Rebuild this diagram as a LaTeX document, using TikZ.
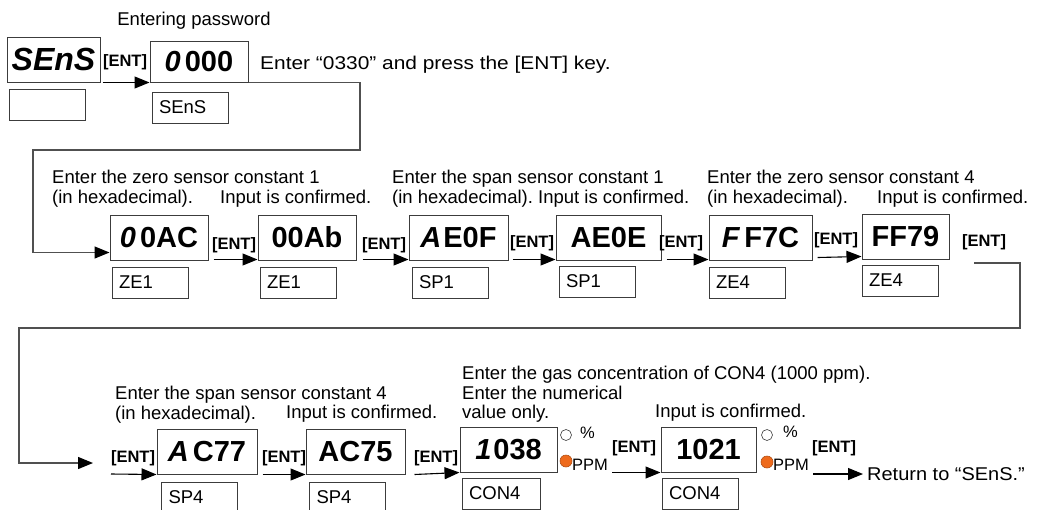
\documentclass[tikz,border=0pt]{standalone}
\usepackage{fontspec}
\setmainfont{Liberation Sans}
\usetikzlibrary{arrows.meta}
\definecolor{boxline}{HTML}{3C3C3C}
\definecolor{wiregray}{HTML}{505050}
\definecolor{lamp}{HTML}{EE6A1C}
\tikzset{
  disp/.style={draw=boxline, line width=1pt, minimum width=98pt, minimum height=45pt,
    inner sep=0pt, font=\fontsize{29}{29}\selectfont\bfseries},
  namebox/.style={draw=boxline, line width=1pt, minimum height=31pt, inner ysep=0pt,
    inner xsep=7pt, text width=62pt, align=left, font=\fontsize{18.5}{19}\selectfont},
  ent/.style={inner sep=0pt, font=\fontsize{16.5}{17}\selectfont\bfseries},
  txt/.style={inner sep=0pt, align=left, font=\fontsize{18.5}{19.5}\selectfont},
  unit/.style={inner sep=0pt, font=\fontsize{16.5}{16.5}\selectfont},
  lampoff/.style={circle, draw=boxline, line width=0.6pt, minimum size=11pt, inner sep=0pt},
  lampon/.style={lampoff, fill=lamp, draw=lamp!75!black, minimum size=12pt},
  fwd/.style={line width=1.1pt, -{Triangle[length=15pt,width=12pt]}},
  wire/.style={draw=wiregray, line width=1.3pt, -{Triangle[length=15pt,width=12pt,color=black]}}
}
\begin{document}
\begin{tikzpicture}[x=1pt,y=-1pt]
  \clip (0,0) rectangle (1040,509);
  \node[txt, anchor=base] (title) at (194,25) {Entering password};
  \node[disp, minimum width=93pt, font=\fontsize{32}{32}\selectfont\bfseries] (sens) at (53.5,59.5) {\textit{SEnS}};
  \node[namebox] (blank) at (47,104.5) {};
  \node[ent] (ent0) at (125,62) {[ENT]};
  \node[disp, minimum height=41pt] (pw) at (199,61.5) {\textit{0}\hspace{4pt}000};
  \node[namebox] (pwtag) at (190,107.5) {SEnS};
  \node[txt, anchor=base west] (hint) at (260,69)
    {\addfontfeatures{FakeStretch=1.13}Enter “0330” and press the [ENT] key.};

  \node[txt, anchor=north west] (t1) at (52,170) {Enter the zero sensor constant 1\\(in hexadecimal).};
  \node[txt, anchor=base west] (c1) at (220,203) {Input is confirmed.};
  \node[txt, anchor=north west] (t2) at (392,170) {Enter the span sensor constant 1\\(in hexadecimal).};
  \node[txt, anchor=base west] (c2) at (538,203) {Input is confirmed.};
  \node[txt, anchor=north west] (t3) at (707,170) {Enter the zero sensor constant 4\\(in hexadecimal).};
  \node[txt, anchor=base west] (c3) at (877,203) {Input is confirmed.};

  \node[disp] (a1) at (159,237.5) {\textit{0}\hspace{4pt}0AC};
  \node[disp] (a2) at (307,237.5) {00Ab};
  \node[disp, minimum width=99pt] (a3) at (458.5,237.5) {\textit{A}\hspace{2pt}E0F};
  \node[disp, minimum width=105pt] (a4) at (608.5,237.5) {AE0E};
  \node[disp, minimum width=103pt] (a5) at (760.5,237.5) {\textit{F}\hspace{4pt}F7C};
  \node[disp, minimum width=87pt] (a6) at (905.5,236.5) {FF79};
  \node[namebox] (l1) at (150,282.5) {ZE1};
  \node[namebox] (l2) at (298,282.5) {ZE1};
  \node[namebox] (l3) at (450,282.5) {SP1};
  \node[namebox] (l4) at (597,281.5) {SP1};
  \node[namebox] (l5) at (747,282.5) {ZE4};
  \node[namebox] (l6) at (900,280.5) {ZE4};
  \node[ent] (e1) at (234,245) {[ENT]};
  \node[ent] (e2) at (384,245) {[ENT]};
  \node[ent] (e3) at (532,243) {[ENT]};
  \node[ent] (e4) at (681,243) {[ENT]};
  \node[ent] (e5) at (836,240) {[ENT]};
  \node[ent] (e6) at (984,242) {[ENT]};

  \node[txt, anchor=north west] (t4) at (115,386) {Enter the span sensor constant 4\\(in hexadecimal).};
  \node[txt, anchor=base west] (c4) at (286,418) {Input is confirmed.};
  \node[txt, anchor=north west] (t5) at (462,366) {Enter the gas concentration of CON4 (1000 ppm).\\Enter the numerical\\value only.};
  \node[txt, anchor=base west] (c5) at (655,417) {Input is confirmed.};

  \node[disp, minimum width=100pt] (b1) at (207,451.5) {\textit{A}\hspace{4pt}C77};
  \node[disp, minimum width=99pt] (b2) at (355.5,451.5) {AC75};
  \node[disp, minimum width=97pt] (b3) at (508.5,449.5) {\textit{1}\hspace{2pt}038};
  \node[disp, minimum width=95pt] (b4) at (708.5,449.5) {1021};
  \node[namebox] (m1) at (199.5,497.5) {SP4};
  \node[namebox] (m2) at (347.5,497.5) {SP4};
  \node[namebox, text width=64pt] (m3) at (501,493.5) {CON4};
  \node[namebox] (m4) at (700,493.5) {CON4};
  \node[ent] (f1) at (133,458) {[ENT]};
  \node[ent] (f2) at (284,458) {[ENT]};
  \node[ent] (f3) at (436,458) {[ENT]};
  \node[ent] (f4) at (634,448) {[ENT]};
  \node[ent] (f5) at (834,448) {[ENT]};

  \node[lampoff] (o1) at (566,435) {};
  \node[unit, anchor=west] (pc1) at (580,433) {\%};
  \node[lampon] (g1) at (566,461) {};
  \node[unit, anchor=west] (ppm1) at (572,465) {PPM};
  \node[lampoff] (o2) at (767,435) {};
  \node[unit, anchor=west] (pc2) at (783,432) {\%};
  \node[lampon] (g2) at (767,462) {};
  \node[unit, anchor=west] (ppm2) at (773,465) {PPM};
  \node[txt, anchor=west] (ret) at (867,474)
    {\addfontfeatures{FakeStretch=1.08}Return to “SEnS.”};

  \coordinate (k1) at (360,150);
  \coordinate (k2) at (33,150);
  \coordinate (r0) at (974,263);
  \coordinate (r1) at (1020,328);
  \coordinate (r2) at (19,328);
  \coordinate (r3) at (93,463);
  \coordinate (q0) at (111,474);

  \begin{scope}
    \draw[fwd] ([xshift=2pt]sens.south east) -- (pw.south west);
    \draw[wire] (pw.south east) -| (k1) -- (k2) |- ([yshift=8pt]a1.south west);
    \draw[fwd] ([xshift=5pt,yshift=1pt]a1.south east) -- ([yshift=1pt]a2.south west);
    \draw[fwd] ([xshift=6pt,yshift=1pt]a2.south east) -- ([yshift=1pt]a3.south west);
    \draw[fwd] ([xshift=4pt,yshift=1pt]a3.south east) -- ([yshift=1pt]a4.south west);
    \draw[fwd] ([xshift=5pt,yshift=1pt]a4.south east) -- ([yshift=1pt]a5.south west);
    \draw[fwd] ([xshift=5pt,yshift=3pt]a5.south east) -- ([yshift=3pt]a6.south west);
    \draw[wire] (r0) -| (r1) -- (r2) |- (r3);
    \draw[fwd] (q0) -- (b1.south west);
    \draw[fwd] ([xshift=5pt]b1.south east) -- (b2.south west);
    \draw[fwd] ([xshift=9pt]b2.south east) -- (b3.south west);
    \draw[fwd] ([xshift=4pt]ppm1.east |- b4.south west) -- (b4.south west);
    \draw[fwd] ([xshift=4pt]ppm2.east |- ret.west) -- ([xshift=-4pt]ret.west);
  \end{scope}
\end{tikzpicture}
\end{document}
